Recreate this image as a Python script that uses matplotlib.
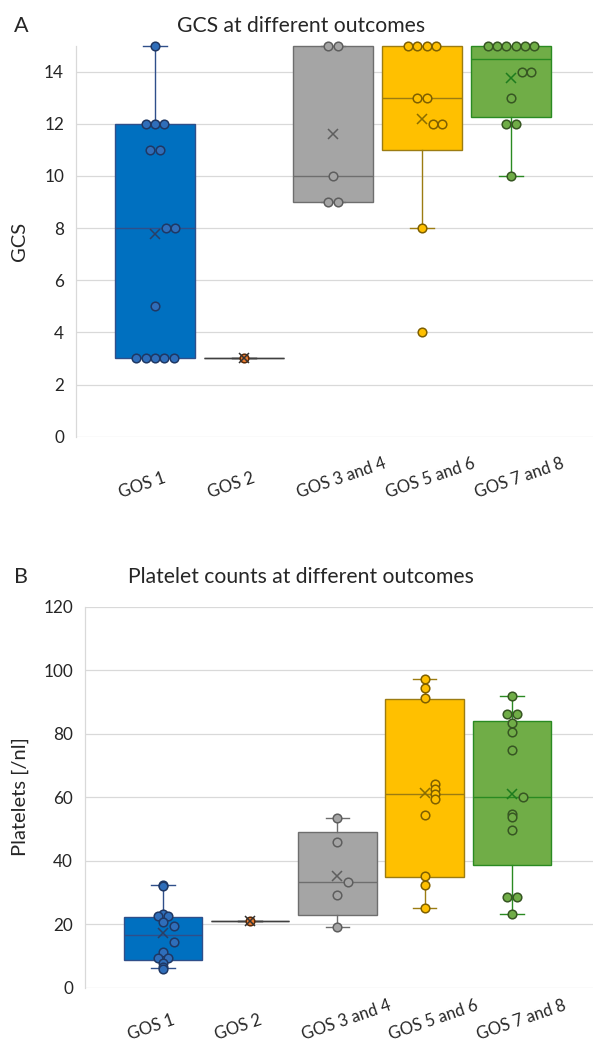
import numpy as np
import matplotlib
matplotlib.use('Agg')
import matplotlib.pyplot as plt
import matplotlib.transforms as mtransforms

plt.rcParams['font.family'] = ['Lato', 'DejaVu Sans']

# categories
groups = ['GOS 1', 'GOS 2', 'GOS 3 and 4', 'GOS 5 and 6', 'GOS 7 and 8']

# GCS per outcome group (individual patients)
gcs_gos1 = [15, 12, 12, 12, 11, 11, 8, 8, 5, 3, 3, 3, 3, 3]
gcs_gos2 = [3]
gcs_gos34 = [15, 15, 10, 9, 9]
gcs_gos56 = [15, 15, 15, 15, 13, 13, 12, 12, 8, 4]
gcs_gos78 = [15, 15, 15, 15, 15, 15, 14, 14, 13, 12, 12, 10]

# GCS box statistics as drawn
gcs_q1 = [3, 3, 9, 11, 12.25]
gcs_med = [8, 3, 10, 13, 14.5]
gcs_q3 = [12, 3, 15, 15, 15]
gcs_lo = [3, 3, 9, 8, 10]
gcs_hi = [15, 3, 15, 15, 15]
gcs_mean = [7.79, 3, 11.6, 12.2, 13.75]

# platelet counts per outcome group
plt_gos1 = [32.5, 32, 23.3, 22.5, 22.5, 20.7, 19.5, 14.3, 11.4, 9.4, 9.4, 7.8, 6.5, 6.0]
plt_gos2 = [21]
plt_gos34 = [53.4, 45.8, 33.3, 29.1, 19.1]
plt_gos56 = [97.2, 94.3, 91.3, 64.1, 62.6, 61.0, 59.3, 54.4, 35.3, 32.4, 25.2]
plt_gos78 = [92.0, 86.1, 86.1, 83.3, 80.6, 74.9, 60.0, 54.7, 53.9, 49.7, 28.7, 28.7, 23.1]

# platelet box statistics as drawn
plt_q1 = [8.6, 21, 22.8, 35.0, 38.5]
plt_med = [16.5, 21, 33.2, 60.9, 60.0]
plt_q3 = [22.3, 21, 49.0, 90.8, 83.9]
plt_lo = [6.1, 21, 19.1, 25.2, 23.1]
plt_hi = [32.2, 21, 53.4, 97.2, 92.0]
plt_mean = [17.2, 21, 35.1, 61.2, 61.0]

fill_cols = ['#0070C0', '#ED7D31', '#A5A5A5', '#FFC000', '#70AD47']
line_cols = ['#2F4F8A', '#404040', '#6E6E6E', '#9C7C12', '#2A8A22']
dot_faces = ['#2F6EBA', '#ED7D31', '#A5A5A5', '#FFC000', '#70AD47']
dot_edges = ['#1F3864', '#5A2A08', '#5E5E5E', '#7F6000', '#375623']
mean_cols = ['#2A3F66', '#333333', '#5E5E5E', '#8A6D00', '#1E7B1E']

text_col = '#262626'
grid_col = '#D9D9D9'

W, H = 593, 1046
fig = plt.figure(figsize=(W / 100, H / 100), dpi=100)

DOT_PX = 9.3


def draw_panel(ax, pts, q1, med, q3, lo, hi, mean, ymax, yticks, xlim, label_y):
    ax.set_xlim(*xlim)
    ax.set_ylim(0, ymax)
    stats = []
    for i in range(len(groups)):
        stats.append(dict(med=med[i], q1=q1[i], q3=q3[i], whislo=lo[i],
                          whishi=hi[i], label=groups[i]))
    bp = ax.bxp(stats, positions=range(len(groups)), widths=0.9,
                patch_artist=True, showfliers=False, capwidths=0.27,
                manage_ticks=False, zorder=2)
    for i in range(len(groups)):
        bp['boxes'][i].set(facecolor=fill_cols[i], edgecolor=line_cols[i],
                           linewidth=1, clip_on=False)
        bp['medians'][i].set(color=line_cols[i], linewidth=1, clip_on=False)
        for k in (2 * i, 2 * i + 1):
            bp['whiskers'][k].set(color=line_cols[i], linewidth=1, clip_on=False)
            bp['caps'][k].set(color=line_cols[i], linewidth=1, clip_on=False)

    # pixel scale of this axes
    pos = ax.get_position()
    xpx = pos.width * W / (xlim[1] - xlim[0])
    ypx = pos.height * H / ymax
    dx = DOT_PX / xpx

    for i, vals in enumerate(pts):
        uniq = sorted(set(vals), reverse=True)
        for v in uniq:
            k = vals.count(v)
            gap = abs(v - mean[i]) * ypx
            if 0 < gap < DOT_PX + 0.5:
                # pushed aside by the mean marker
                offs = (np.arange(k) + 1.15) * dx
            else:
                offs = (np.arange(k) - (k - 1) / 2) * dx
            ax.plot(i + offs, [v] * k, 'o', ms=6.2, mfc=dot_faces[i],
                    mec=dot_edges[i], mew=1.1, zorder=3, linestyle='none',
                    clip_on=False)
        ax.plot(i, mean[i], 'x', ms=7.5, color=mean_cols[i], mew=1.1,
                zorder=4, clip_on=False)

    ax.set_yticks(yticks)
    ax.yaxis.grid(True, color=grid_col, linewidth=0.9, zorder=0)
    ax.set_axisbelow(True)
    ax.set_xticks([])
    for s in ('top', 'right', 'bottom'):
        ax.spines[s].set_visible(False)
    ax.spines['left'].set_color(grid_col)
    ax.spines['left'].set_linewidth(0.9)
    ax.tick_params(axis='y', length=0, pad=8.6, labelsize=12.3, labelcolor=text_col)

    trans = mtransforms.blended_transform_factory(ax.transData, ax.transAxes)
    for i, g in enumerate(groups):
        ax.text(i - 0.37, label_y, g, rotation=19, rotation_mode='anchor',
                ha='left', va='bottom', transform=trans, fontsize=12,
                color=text_col, clip_on=False)


ax1 = fig.add_axes([76 / W, 1 - 436.7 / H, 517 / W, 391.1 / H])
draw_panel(ax1, [gcs_gos1, gcs_gos2, gcs_gos34, gcs_gos56, gcs_gos78],
           gcs_q1, gcs_med, gcs_q3, gcs_lo, gcs_hi, gcs_mean,
           15, np.arange(0, 15, 2), (-0.888, 4.92), -0.165)

ax2 = fig.add_axes([85 / W, 1 - 987.7 / H, 508 / W, 381 / H])
draw_panel(ax2, [plt_gos1, plt_gos2, plt_gos34, plt_gos56, plt_gos78],
           plt_q1, plt_med, plt_q3, plt_lo, plt_hi, plt_mean,
           120, np.arange(0, 121, 20), (-0.894, 4.93), -0.145)

fig.text(301 / W, 1 - 32.5 / H, 'GCS at different outcomes', ha='center',
         va='baseline', fontsize=15.2, color=text_col)
fig.text(301 / W, 1 - 583 / H, 'Platelet counts at different outcomes',
         ha='center', va='baseline', fontsize=15.2, color=text_col)
fig.text(14 / W, 1 - 32.5 / H, 'A', ha='left', va='baseline', fontsize=15.5, color=text_col)
fig.text(14 / W, 1 - 583 / H, 'B', ha='left', va='baseline', fontsize=15.5, color=text_col)
fig.text(20 / W, 1 - 241 / H, 'GCS', rotation=90, ha='center', va='center',
         fontsize=14.5, color=text_col)
fig.text(20 / W, 1 - 797 / H, 'Platelets [/nl]', rotation=90, ha='center',
         va='center', fontsize=14.5, color=text_col)

fig.savefig('out.png', dpi=100)
